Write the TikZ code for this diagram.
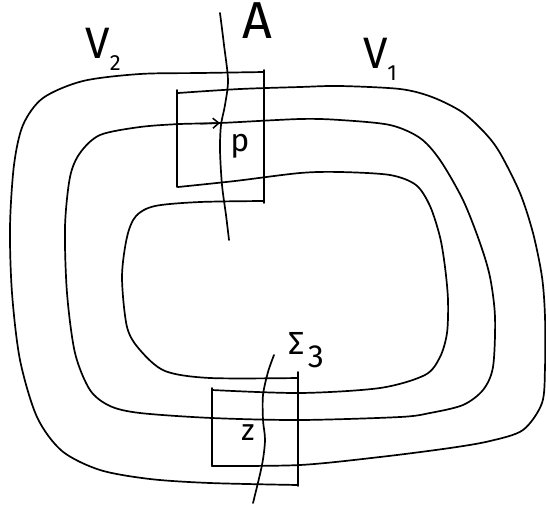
\documentclass[tikz,border=0pt]{standalone}
\usepackage{fontspec}
\setmainfont{Fira Sans}
\usetikzlibrary{arrows.meta}
\tikzset{
  curve/.style={line width=1.7pt, line cap=round, line join=round},
  lbl/.style={inner sep=0pt, text=black},
}
\begin{document}
\begin{tikzpicture}[x=1pt,y=-1pt]
\useasboundingbox (0,0) rectangle (546,507);
% V2 piece (left)
\draw[curve] plot[smooth] coordinates {(264,72) (200,73) (140,74) (83,81) (43,98) (23,125) (14,165) (10,227) (12,293) (20,360) (37,417) (62,451) (100,470) (150,479) (210,483) (298,485)};
\draw[curve] plot[smooth] coordinates {(264,201) (200,202) (155,206) (136,216) (127,237) (122,277) (127,327) (140,350) (165,371) (210,378) (298,378)};
\draw[curve] (264,70) -- (264,203);
\draw[curve] (298,372) -- (298,486);
% V1 piece (right)
\draw[curve] plot[smooth] coordinates {(178,93) (240,89) (300,87) (340,86) (400,89) (432,97) (462,112) (485,133) (500,153) (520,193) (533,233) (542,277) (545,317) (545,367) (542,403) (523,430) (490,441) (450,448) (380,457) (300,465) (212,466)};
\draw[curve] plot[smooth] coordinates {(178,187) (235,181) (300,173) (340,172) (390,175) (416,185) (430,206) (440,237) (445,267) (448,300) (447,333) (440,357) (425,375) (380,388) (300,393) (212,390)};
\draw[curve] (177,90) -- (177,187);
\draw[curve] (212,388) -- (212,466);
% middle closed curve
\draw[curve] plot[smooth cycle] coordinates {(220,123) (300,119) (340,120) (390,125) (420,138) (440,160) (463,200) (480,243) (490,277) (495,317) (493,367) (483,390) (463,405) (430,413) (400,417) (300,420) (212,418) (140,413) (110,406) (90,390) (75,353) (67,293) (65,227) (70,177) (80,153) (100,135) (140,127) (180,124)};
\coordinate (arrS) at (200,123.6);
\coordinate (arrE) at (220,123);
\draw[line width=1.5pt, -{Straight Barb[length=6pt,width=10pt]}] (arrS) -- (arrE);
% transversal A
\draw[curve] plot[smooth] coordinates {(220,13) (224,45) (228,80) (225,105) (221,125) (220,150) (222,185) (226,215) (229,240)};
% transversal Sigma_3
\draw[curve] plot[smooth] coordinates {(274,355) (268,372) (263,395) (263,420) (265,440) (262,465) (253,503)};
% labels
\node[lbl, font=\fontsize{52}{52}\selectfont] (A) at (257,21) {A};
\node[lbl, font=\fontsize{44}{44}\selectfont] (V2) at (103,49) {V\raisebox{-0.28em}{\fontsize{22}{22}\selectfont 2}};
\node[lbl, font=\fontsize{44}{44}\selectfont] (V1) at (380,59) {V\raisebox{-0.28em}{\fontsize{22}{22}\selectfont 1}};
\node[lbl, font=\fontsize{32}{32}\selectfont] (p) at (240,146) {p};
\node[lbl, font=\fontsize{30}{30}\selectfont] (z) at (248,433) {z};
\node[lbl, font=\fontsize{32}{32}\selectfont] (S3) at (306,350) {Σ\hspace{0.12em}\raisebox{-0.4em}{3}};
\end{tikzpicture}
\end{document}
